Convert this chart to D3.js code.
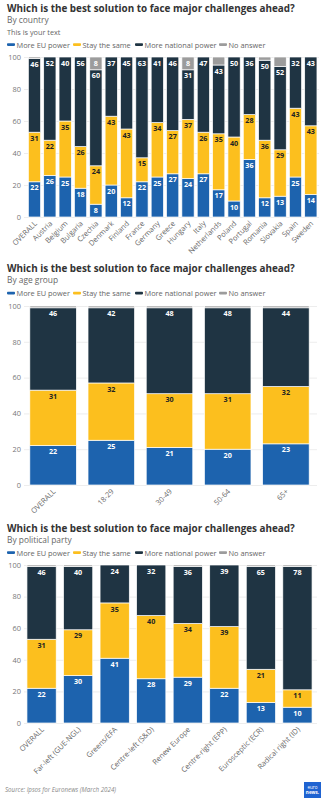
<!DOCTYPE html>
<html>
<head>
<meta charset="utf-8">
<script src="https://cdn.jsdelivr.net/npm/d3@7"></script>
<style>
  html, body { margin: 0; padding: 0; background: #fff; }
  svg { display: block; font-family: "Open Sans", "Noto Sans", sans-serif; }
</style>
</head>
<body>
<svg id="chart" width="324" height="800"></svg>
<script>
// Survey answers, in percent
const seriesNames = ["More EU power", "Stay the same", "More national power", "No answer"];
const yTicks = [0, 20, 40, 60, 80, 100];

const countryCats = ["OVERALL", "Austria", "Belgium", "Bulgaria", "Czechia", "Denmark", "Finland", "France", "Germany", "Greece", "Hungary", "Italy", "Netherlands", "Poland", "Portugal", "Romania", "Slovakia", "Spain", "Sweden"];
const countryEU       = [22, 26, 25, 18, 8, 20, 12, 22, 25, 27, 24, 27, 17, 10, 36, 12, 13, 25, 14];
const countrySame     = [31, 22, 35, 26, 24, 43, 43, 15, 34, 27, 37, 26, 35, 40, 28, 36, 29, 43, 43];
const countryNational = [46, 52, 40, 56, 60, 37, 45, 63, 41, 46, 31, 47, 43, 50, 36, 50, 52, 32, 43];
const countryNone     = [1, 0, 0, 0, 8, 0, 0, 0, 0, 0, 8, 0, 5, 0, 0, 2, 6, 0, 0];

const ageCats     = ["OVERALL", "18-29", "30-49", "50-64", "65+"];
const ageEU       = [22, 25, 21, 20, 23];
const ageSame     = [31, 32, 30, 31, 32];
const ageNational = [46, 42, 48, 48, 44];
const ageNone     = [1, 1, 1, 1, 1];

const partyCats     = ["OVERALL", "Far-left (GUE-NGL)", "Greens/EFA", "Centre-left (S&D)", "Renew Europe", "Centre-right (EPP)", "Eurosceptic (ECR)", "Radical right (ID)"];
const partyEU       = [22, 30, 41, 28, 29, 22, 13, 10];
const partySame     = [31, 29, 35, 40, 34, 39, 21, 11];
const partyNational = [46, 40, 24, 32, 36, 39, 65, 78];
const partyNone     = [1, 1, 0, 0, 1, 0, 1, 1];

const title = "Which is the best solution to face major challenges ahead?";
const colors = ["#1d63ae", "#fcbf1e", "#1f3443", "#9c9c9c"];
const labelColors = ["#fff", "#222", "#fff", "#fff"];

const svg = d3.select("#chart");

function drawPanel(p) {
  const g = svg.append("g");
  const rows = p.cats.map((c, i) => ({
    cat: c,
    [seriesNames[0]]: p.eu[i],
    [seriesNames[1]]: p.same[i],
    [seriesNames[2]]: p.national[i],
    [seriesNames[3]]: p.none[i]
  }));
  const stacked = d3.stack().keys(seriesNames)(rows);

  const x = d3.scaleBand().domain(p.cats).range(p.xRange).paddingInner(p.padIn).paddingOuter(p.padOut);
  const y = d3.scaleLinear().domain([0, 100]).range([p.yBottom, p.yTop]);

  // Headings
  g.append("text").attr("x", 7).attr("y", p.titleY)
    .attr("font-size", 9.9).attr("font-weight", 700).attr("fill", "#333").text(title);
  g.append("text").attr("x", 7).attr("y", p.subY)
    .attr("font-size", 8.4).attr("fill", "#666").text(p.subtitle);
  if (p.note) {
    g.append("text").attr("x", 7).attr("y", p.noteY)
      .attr("font-size", 7.3).attr("fill", "#666").text(p.note);
  }

  // Legend
  const legendX = [7, 73, 135, 219];
  const lg = g.append("g").selectAll("g").data(seriesNames).join("g")
    .attr("transform", (d, i) => `translate(${legendX[i]},${p.legendY})`);
  lg.append("rect").attr("x", 0).attr("y", -4.2).attr("width", 8).attr("height", 2.6).attr("rx", 0.8)
    .attr("fill", (d, i) => colors[i]);
  lg.append("text").attr("x", 9.5).attr("y", 0)
    .attr("font-size", 7.4).attr("fill", "#666").text(d => d);

  // Y axis with gridlines
  const yAxis = d3.axisLeft(y).tickValues(yTicks).tickSize(-(p.gridRight - p.gridLeft)).tickPadding(3);
  const ya = g.append("g").attr("transform", `translate(${p.gridLeft},0)`).call(yAxis);
  ya.select(".domain").remove();
  ya.selectAll(".tick line").attr("stroke", "#e8e8e8").attr("stroke-width", 0.8);
  ya.selectAll(".tick text").attr("font-size", 7.4).attr("fill", "#777")
    .attr("font-family", "Open Sans, sans-serif");

  // Stacked bars
  const layers = g.append("g").selectAll("g").data(stacked).join("g")
    .attr("fill", (d, i) => colors[i]);
  layers.selectAll("rect").data(d => d).join("rect")
    .attr("x", d => x(d.data.cat))
    .attr("width", x.bandwidth())
    .attr("y", d => y(d[1]))
    .attr("height", d => Math.max(0, y(d[0]) - y(d[1])))
    .attr("stroke", "#fff").attr("stroke-width", 0.7);

  // Value labels near the top of each segment
  stacked.forEach((layer, si) => {
    g.append("g").selectAll("text")
      .data(layer.filter(d => (d[1] - d[0]) >= 8))
      .join("text")
      .attr("x", d => x(d.data.cat) + x.bandwidth() / 2)
      .attr("y", d => y(d[1]) + 8.6)
      .attr("text-anchor", "middle")
      .attr("font-size", 7.2).attr("font-weight", 700)
      .attr("fill", labelColors[si])
      .text(d => d[1] - d[0]);
  });

  // Category labels, slanted
  const xa = g.append("g").attr("transform", `translate(0,${p.yBottom})`)
    .call(d3.axisBottom(x).tickSize(0).tickPadding(0));
  xa.select(".domain").remove();
  xa.selectAll(".tick text")
    .attr("font-size", 7.4).attr("fill", "#666")
    .attr("font-family", "Open Sans, sans-serif")
    .attr("text-anchor", "end")
    .attr("dy", 0)
    .attr("transform", "translate(3,7) rotate(-45)");
}

drawPanel({
  cats: countryCats, eu: countryEU, same: countrySame, national: countryNational, none: countryNone,
  subtitle: "By country", note: "This is your text",
  titleY: 11.5, subY: 22.5, noteY: 34.5, legendY: 47.5,
  yTop: 57, yBottom: 217, xRange: [26.8, 318.5], padIn: 0.2, padOut: 0.1,
  gridLeft: 24, gridRight: 319
});

drawPanel({
  cats: ageCats, eu: ageEU, same: ageSame, national: ageNational, none: ageNone,
  subtitle: "By age group",
  titleY: 272, subY: 283, legendY: 296,
  yTop: 306, yBottom: 485, xRange: [24, 315], padIn: 0.2, padOut: 0.1,
  gridLeft: 24, gridRight: 317
});

drawPanel({
  cats: partyCats, eu: partyEU, same: partySame, national: partyNational, none: partyNone,
  subtitle: "By political party",
  titleY: 531.5, subY: 542.5, legendY: 555.5,
  yTop: 565, yBottom: 723, xRange: [23.3, 315.7], padIn: 0.2, padOut: 0.1,
  gridLeft: 24, gridRight: 317
});

// Source line
svg.append("text").attr("x", 5).attr("y", 792)
  .attr("font-size", 6.2).attr("font-style", "italic").attr("fill", "#888")
  .text("Source: Ipsos for Euronews (March 2024)");

// Publisher mark
const logo = svg.append("g").attr("transform", "translate(304,782)");
logo.append("rect").attr("width", 17).attr("height", 16).attr("fill", "#1f63d1");
logo.append("text").attr("x", 8.5).attr("y", 7).attr("text-anchor", "middle")
  .attr("font-size", 4.6).attr("fill", "#fff").text("euro");
logo.append("text").attr("x", 8.5).attr("y", 12).attr("text-anchor", "middle")
  .attr("font-size", 4.6).attr("font-weight", 700).attr("fill", "#fff").text("news.");
</script>
</body>
</html>
